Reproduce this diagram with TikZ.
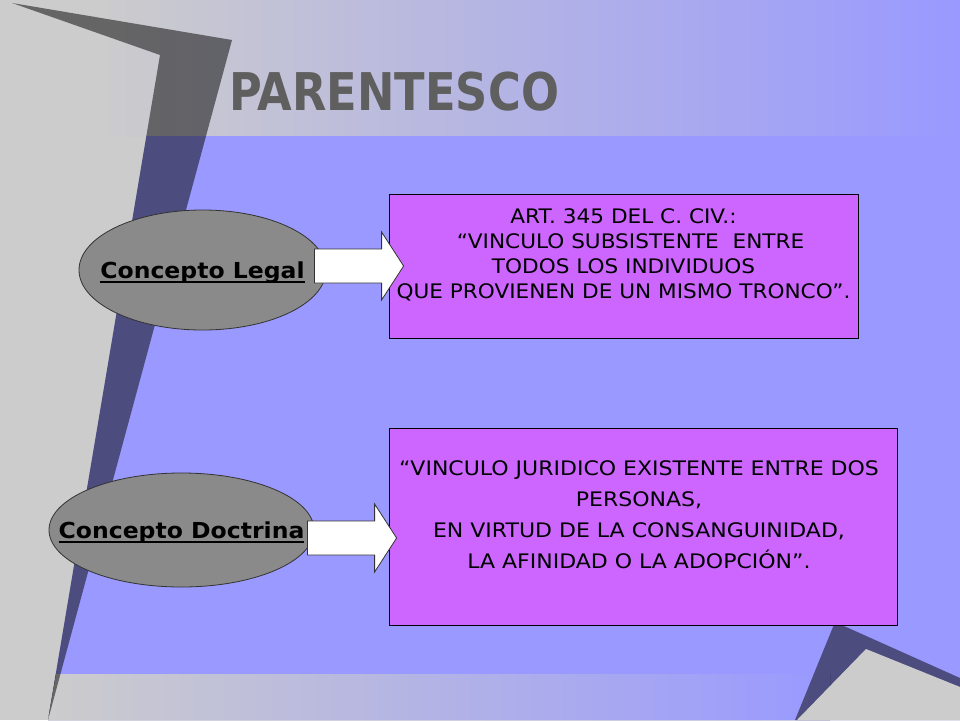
\documentclass[tikz,border=0pt]{standalone}
\usepackage{fontspec}
\usepackage{tikz}
\usetikzlibrary{shapes.geometric, calc}
\newfontfamily\titlefont[FakeStretch=0.86]{DejaVu Sans Bold}
\newfontfamily\conceptfont[FakeStretch=1.07]{DejaVu Sans Bold}
\newfontfamily\boxfont[FakeStretch=1.08]{DejaVu Sans}
\newfontfamily\doctfont[FakeStretch=1.1]{DejaVu Sans}
\definecolor{bggray}{HTML}{CCCCCC}
\definecolor{panelblue}{HTML}{9999FF}
\definecolor{boxviolet}{HTML}{CC66FF}
\definecolor{ovalgray}{HTML}{8A8A8A}
\definecolor{titlegray}{HTML}{5F5F5F}
\tikzstyle{concept} = [ellipse, draw=black!80, line width=0.8pt, fill=ovalgray, inner sep=0pt, text height=16pt, text depth=0pt, font=\conceptfont\fontsize{22}{22}\selectfont]
\tikzstyle{defbox} = [rectangle, draw=black, line width=0.8pt, fill=boxviolet]
\tikzstyle{deftext} = [align=center, inner sep=0pt, anchor=north, font=\boxfont\fontsize{20}{25.3}\selectfont]
\tikzstyle{blockarrow} = [draw=black!80, line width=0.8pt, fill=white, line join=miter]
\newcommand{\ulword}[1]{\setbox0\hbox{#1}\rlap{\rule[-4.5pt]{\wd0}{1.8pt}}\box0}
\newcommand{\blockarrow}[2]{%
  \draw[blockarrow] let \p1=#1, \p2=#2 in
    (\x1,\y1+17pt) -- (\x2-22pt,\y1+17pt) -- (\x2-22pt,\y1+34pt) -- (\x2,\y1)
    -- (\x2-22pt,\y1-34pt) -- (\x2-22pt,\y1-17pt) -- (\x1,\y1-17pt) -- cycle;}

\begin{document}
\begin{tikzpicture}[line cap=round,line join=round,x=1pt,y=-1pt]
    \useasboundingbox (0,0) rectangle (960,720);
    % background
    \fill[bggray] (0,0) rectangle (960,720);
    \fill[left color=bggray, right color=panelblue] (100,0) rectangle (960,136);
    \fill[panelblue] (146.4,136) -- (960,136) -- (960,720) -- (48,720) -- cycle;
    \fill[left color=bggray, right color=panelblue] (56,674) -- (830,674) -- (830,720) -- (48,720) -- cycle;
    \fill[black, fill opacity=0.5] (12,3) -- (232,40) -- (48,720) -- (160,55) -- cycle;
    \fill[black, fill opacity=0.5] (835,622) -- (960,678) -- (960,720) -- (795,720) -- cycle;
    \fill[bggray] (866,649) -- (960,687) -- (960,720) -- (797,720) -- cycle;
    % title
    \node[anchor=base west, inner sep=0pt, text=titlegray, font=\titlefont\fontsize{52}{52}\selectfont] (title) at (229,110) {PARENTESCO};
    % boxes
    \node[defbox, minimum width=469pt, minimum height=144pt] (legalbox) at (623.5,266) {};
    \node[deftext] (legaltext) at (623.5,208) {ART. 345 DEL C. CIV.:\\
        \hspace*{14pt}“VINCULO SUBSISTENTE\ \ ENTRE\\
        TODOS LOS INDIVIDUOS\hspace*{9pt}\\
        QUE PROVIENEN DE UN MISMO TRONCO”.};
    \node[defbox, minimum width=508pt, minimum height=197pt] (doctbox) at (643,526.5) {};
    \node[deftext, font=\doctfont\fontsize{20}{31}\selectfont] (docttext) at (639,460) {“VINCULO JURIDICO EXISTENTE ENTRE DOS\\
        PERSONAS,\\
        EN VIRTUD DE LA CONSANGUINIDAD,\\
        LA AFINIDAD O LA ADOPCIÓN”.};
    % concepts
    \node[concept, minimum width=247pt, minimum height=120pt] (legal) at (202.5,270) {\makebox[0pt]{\ulword{Concepto Legal}}};
    \node[concept, minimum width=265pt, minimum height=114pt] (doct) at (181.5,530) {\makebox[0pt]{\ulword{Concepto Doctrina}}};
    % arrows
    \blockarrow{($(legal.east)+(-12,-4)$)}{($(legalbox.west)+(15,0)$)}
    \blockarrow{($(doct.east)+(-7,8)$)}{($(doctbox.west)+(8,10.5)$)}
\end{tikzpicture}
\end{document}
